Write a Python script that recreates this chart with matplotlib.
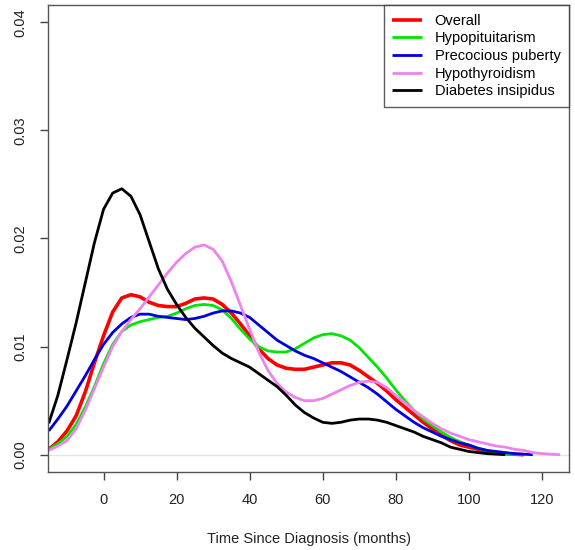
import numpy as np
import matplotlib
matplotlib.use("Agg")
import matplotlib.pyplot as plt

plt.rcParams['font.family'] = ['Liberation Sans', 'DejaVu Sans']

# density curves, every 2.5 months from -15
months = np.arange(-15, 125.1, 2.5)

overall = [0.0005, 0.0012, 0.0022, 0.0036, 0.0058, 0.0085, 0.0110, 0.0132, 0.0145, 0.0148,
           0.0146, 0.0141, 0.0138, 0.0137, 0.0137, 0.0140, 0.0144, 0.0145, 0.0144, 0.0139,
           0.0131, 0.0121, 0.0110, 0.0098, 0.0089, 0.0083, 0.0080, 0.0079, 0.0079, 0.0081,
           0.0083, 0.0085, 0.0085, 0.0083, 0.0078, 0.0072, 0.0066, 0.0059, 0.0051, 0.0044,
           0.0037, 0.0030, 0.0024, 0.0018, 0.0013, 0.0009, 0.0007, 0.0005, 0.0003, 0.0002,
           0.0001, 0.00005, 0.0]
hypopit = [0.0005, 0.0010, 0.0017, 0.0028, 0.0044, 0.0063, 0.0084, 0.0102, 0.0114, 0.0120,
           0.0123, 0.0125, 0.0127, 0.0128, 0.0131, 0.0135, 0.0138, 0.0139, 0.0138, 0.0134,
           0.0126, 0.0116, 0.0107, 0.0100, 0.0096, 0.0095, 0.0095, 0.0098, 0.0103, 0.0108,
           0.0111, 0.0112, 0.0110, 0.0106, 0.0099, 0.0090, 0.0081, 0.0071, 0.0060, 0.0050,
           0.0041, 0.0033, 0.0027, 0.0021, 0.0016, 0.0012, 0.0009, 0.0006, 0.0004, 0.0002,
           0.0001, 0.00005, 0.0]
puberty = [0.0022, 0.0033, 0.0045, 0.0059, 0.0073, 0.0088, 0.0102, 0.0113, 0.0121, 0.0127,
           0.0130, 0.0130, 0.0128, 0.0127, 0.0126, 0.0125, 0.0126, 0.0128, 0.0131, 0.0133,
           0.0133, 0.0131, 0.0127, 0.0120, 0.0113, 0.0106, 0.0101, 0.0096, 0.0092, 0.0089,
           0.0085, 0.0081, 0.0077, 0.0072, 0.0067, 0.0062, 0.0056, 0.0049, 0.0042, 0.0036,
           0.0030, 0.0025, 0.0021, 0.0017, 0.0014, 0.0011, 0.0009, 0.0006, 0.0004, 0.0003,
           0.0002, 0.0001, 0.00005, 0.0]
hypothyroid = [0.0004, 0.0008, 0.0013, 0.0024, 0.0041, 0.0061, 0.0081, 0.0100, 0.0114, 0.0125,
               0.0135, 0.0146, 0.0157, 0.0168, 0.0178, 0.0186, 0.0192, 0.0194, 0.0190, 0.0179,
               0.0160, 0.0138, 0.0116, 0.0095, 0.0078, 0.0066, 0.0058, 0.0053, 0.0050, 0.0050,
               0.0052, 0.0056, 0.0060, 0.0064, 0.0067, 0.0068, 0.0067, 0.0062, 0.0055, 0.0048,
               0.0041, 0.0035, 0.0029, 0.0024, 0.0020, 0.0017, 0.0014, 0.0012, 0.0010, 0.0008,
               0.0007, 0.0005, 0.0004, 0.0002, 0.0001, 0.00005, 0.0]
diabetes = [0.0029, 0.0055, 0.0088, 0.0122, 0.0159, 0.0196, 0.0227, 0.0242, 0.0246, 0.0239,
            0.0222, 0.0197, 0.0172, 0.0153, 0.0139, 0.0127, 0.0117, 0.0109, 0.0101, 0.0094,
            0.0089, 0.0085, 0.0081, 0.0075, 0.0069, 0.0063, 0.0055, 0.0046, 0.0039, 0.0034,
            0.0030, 0.0029, 0.0030, 0.0032, 0.0033, 0.0033, 0.0032, 0.0030, 0.0027, 0.0024,
            0.0021, 0.0017, 0.0014, 0.0011, 0.0007, 0.0005, 0.0003, 0.0002, 0.0001, 0.00005,
            0.0]

series = [("Overall", overall, "#ff0000", 2.6),
          ("Hypopituitarism", hypopit, "#00e600", 2.0),
          ("Precocious puberty", puberty, "#0000dd", 2.0),
          ("Hypothyroidism", hypothyroid, "#ee82ee", 2.0),
          ("Diabetes insipidus", diabetes, "#000000", 2.0)]


def pad(vals):
    out = np.full(len(months), np.nan)
    out[:len(vals)] = vals
    return out


fig = plt.figure(figsize=(5.75, 5.5), dpi=100)
ax = fig.add_axes([0.0835, 0.1418, 0.9065, 0.8492])

ax.axhline(0, color="#e4e4e4", lw=1, zorder=1)
for name, vals, col, lw in series:
    ax.plot(months, pad(vals), color=col, lw=lw, label=name, zorder=2,
            solid_capstyle="butt", solid_joinstyle="round")

ax.set_xlim(-15.2, 127.5)
ax.set_ylim(-0.0016, 0.0416)
ax.set_xticks([0, 20, 40, 60, 80, 100, 120])
ax.set_yticks([0.0, 0.01, 0.02, 0.03, 0.04])
ax.set_yticklabels(["0.00", "0.01", "0.02", "0.03", "0.04"], rotation=90, va="center")
ax.tick_params(direction="out", length=6, width=1, color="#444444", labelsize=10.5,
               labelcolor="#222222", pad=9)
for s in ax.spines.values():
    s.set_color("#555555")
    s.set_linewidth(1)

ax.set_xlabel("Time Since Diagnosis (months)", fontsize=10.5, color="#222222", labelpad=18)

leg = ax.legend(loc="upper right", fontsize=10.5, frameon=True, fancybox=False,
                borderaxespad=0, handlelength=2.0, handletextpad=0.9,
                labelspacing=0.25, borderpad=0.6)
leg.get_frame().set_edgecolor("#333333")
leg.get_frame().set_linewidth(1)

fig.savefig("out.png", dpi=100)
